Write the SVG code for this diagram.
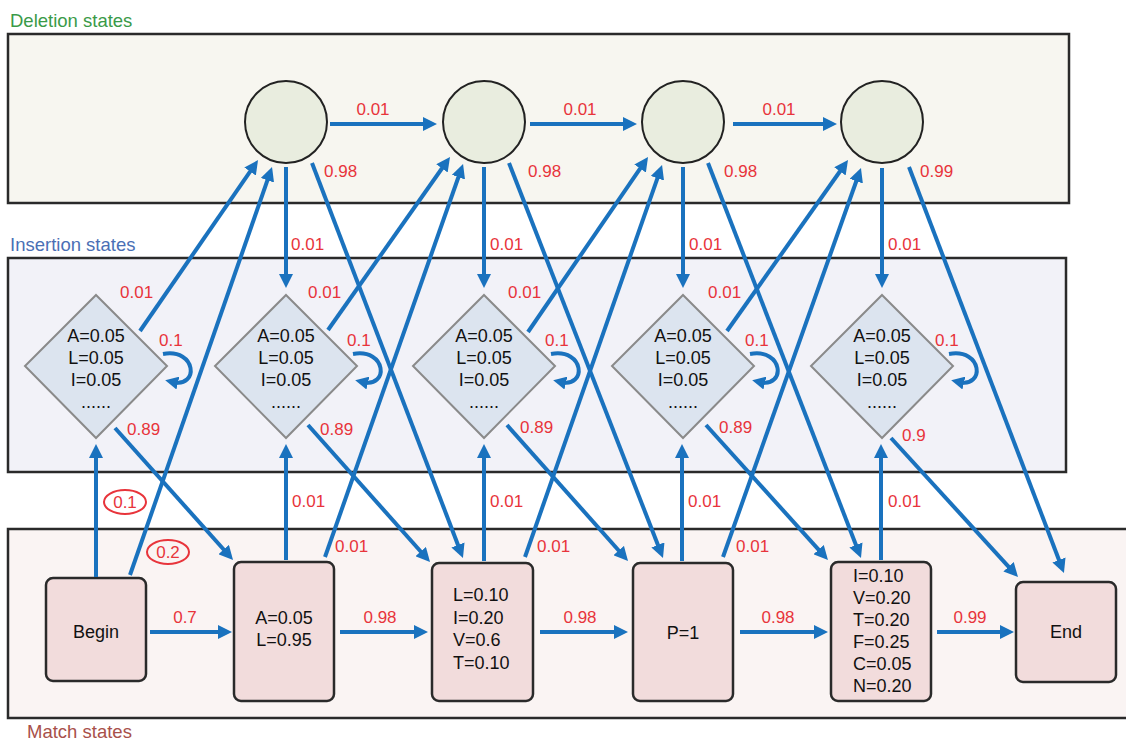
<svg xmlns="http://www.w3.org/2000/svg" width="1126" height="740" viewBox="0 0 1126 740">
<defs>
<marker id="ah" markerUnits="userSpaceOnUse" markerWidth="14" markerHeight="14" viewBox="0 0 14 14" refX="6" refY="7" orient="auto"><path d="M0,0 L14,7 L0,14 Z" fill="#1a72be"/></marker>
<marker id="ahs" markerUnits="userSpaceOnUse" markerWidth="13" markerHeight="13" viewBox="0 0 13 13" refX="5" refY="6.5" orient="auto"><path d="M0,0 L13,6.5 L0,13 Z" fill="#1a72be"/></marker>
</defs>
<style>
text{font-family:"Liberation Sans",Arial,sans-serif}
.panel{stroke:#2a2a2a;stroke-width:2.5}
.title{font-size:18.5px}
.lbl{font-size:17px;fill:#e8343b}
.t{font-size:18px;fill:#111}
.circ{fill:#e9eddf;stroke:#222;stroke-width:2}
.dia{fill:#dce4ef;stroke:#8a8a8a;stroke-width:2}
.box{fill:#f2dcdc;stroke:#2a2a2a;stroke-width:2.5}
.arr{stroke:#1a72be;stroke-width:4;fill:none;marker-end:url(#ah)}
.loop{stroke:#1a72be;stroke-width:4;fill:none;marker-end:url(#ahs)}
.oval{fill:none;stroke:#e8343b;stroke-width:2}
</style>
<rect width="1126" height="740" fill="#ffffff"/>
<g id="panels">
<rect class="panel" x="8" y="34" width="1061" height="169" fill="#f7f6f0"/>
<rect class="panel" x="8" y="258" width="1058" height="214" fill="#f2f2f8"/>
<rect class="panel" x="8" y="529" width="1125" height="189" fill="#faf4f3"/>
<text class="title" x="10" y="27" fill="#3a9a48">Deletion states</text>
<text class="title" x="10" y="251" fill="#4a6fb5">Insertion states</text>
<text class="title" x="27" y="738" fill="#a8504a">Match states</text>
</g>
<g id="D1"><circle class="circ" cx="286" cy="122" r="41"/></g>
<g id="D2"><circle class="circ" cx="484" cy="122" r="41"/></g>
<g id="D3"><circle class="circ" cx="683" cy="122" r="41"/></g>
<g id="D4"><circle class="circ" cx="882" cy="122" r="41"/></g>
<g id="I0"><polygon class="dia" points="96,295 167,366 96,438 25,366"/>
<text class="t" text-anchor="middle"><tspan x="96" y="342">A=0.05</tspan><tspan x="96" y="364">L=0.05</tspan><tspan x="96" y="386">I=0.05</tspan><tspan x="96" y="408">......</tspan></text></g>
<g id="I1"><polygon class="dia" points="286,295 357,366 286,438 215,366"/>
<text class="t" text-anchor="middle"><tspan x="286" y="342">A=0.05</tspan><tspan x="286" y="364">L=0.05</tspan><tspan x="286" y="386">I=0.05</tspan><tspan x="286" y="408">......</tspan></text></g>
<g id="I2"><polygon class="dia" points="484,295 555,366 484,438 413,366"/>
<text class="t" text-anchor="middle"><tspan x="484" y="342">A=0.05</tspan><tspan x="484" y="364">L=0.05</tspan><tspan x="484" y="386">I=0.05</tspan><tspan x="484" y="408">......</tspan></text></g>
<g id="I3"><polygon class="dia" points="683,295 754,366 683,438 612,366"/>
<text class="t" text-anchor="middle"><tspan x="683" y="342">A=0.05</tspan><tspan x="683" y="364">L=0.05</tspan><tspan x="683" y="386">I=0.05</tspan><tspan x="683" y="408">......</tspan></text></g>
<g id="I4"><polygon class="dia" points="882,295 953,366 882,438 811,366"/>
<text class="t" text-anchor="middle"><tspan x="882" y="342">A=0.05</tspan><tspan x="882" y="364">L=0.05</tspan><tspan x="882" y="386">I=0.05</tspan><tspan x="882" y="408">......</tspan></text></g>
<g id="Begin"><rect class="box" x="46" y="578" width="100" height="103" rx="7"/>
<text class="t" x="96" y="638" text-anchor="middle">Begin</text></g>
<g id="M1"><rect class="box" x="234" y="562" width="100" height="139" rx="7"/>
<text class="t" text-anchor="middle"><tspan x="284" y="624">A=0.05</tspan><tspan x="284" y="646">L=0.95</tspan></text></g>
<g id="M2"><rect class="box" x="432" y="563" width="101" height="138" rx="7"/>
<text class="t"><tspan x="453" y="601">L=0.10</tspan><tspan x="453" y="624">I=0.20</tspan><tspan x="453" y="646">V=0.6</tspan><tspan x="453" y="669">T=0.10</tspan></text></g>
<g id="M3"><rect class="box" x="633" y="563" width="100" height="138" rx="7"/>
<text class="t" x="683" y="639" text-anchor="middle">P=1</text></g>
<g id="M4"><rect class="box" x="831" y="562" width="100" height="139" rx="7"/>
<text class="t"><tspan x="853" y="582">I=0.10</tspan><tspan x="853" y="604">V=0.20</tspan><tspan x="853" y="626">T=0.20</tspan><tspan x="853" y="648">F=0.25</tspan><tspan x="853" y="670">C=0.05</tspan><tspan x="853" y="692">N=0.20</tspan></text></g>
<g id="End"><rect class="box" x="1016" y="582" width="100" height="100" rx="7"/>
<text class="t" x="1066" y="638" text-anchor="middle">End</text></g>
<g id="connectors">
<line class="arr" x1="330" y1="124" x2="429" y2="124"/>
<line class="arr" x1="530" y1="124" x2="629" y2="124"/>
<line class="arr" x1="733" y1="124" x2="829" y2="124"/>
<line class="arr" x1="286" y1="167" x2="286" y2="280"/>
<line class="arr" x1="484" y1="167" x2="484" y2="280"/>
<line class="arr" x1="683" y1="167" x2="683" y2="280"/>
<line class="arr" x1="882" y1="168" x2="882" y2="280"/>
<line class="arr" x1="96" y1="577" x2="96" y2="452"/>
<line class="arr" x1="286" y1="560" x2="286" y2="452"/>
<line class="arr" x1="484" y1="561" x2="484" y2="452"/>
<line class="arr" x1="682" y1="561" x2="682" y2="452"/>
<line class="arr" x1="881" y1="560" x2="881" y2="452"/>
<line class="arr" x1="150" y1="632" x2="224" y2="632"/>
<line class="arr" x1="340" y1="632" x2="420" y2="632"/>
<line class="arr" x1="540" y1="632" x2="620" y2="632"/>
<line class="arr" x1="740" y1="632" x2="820" y2="632"/>
<line class="arr" x1="937" y1="632" x2="1006" y2="632"/>
<line class="arr" x1="140" y1="331" x2="253.5" y2="166.6"/>
<line class="arr" x1="328" y1="330" x2="445.4" y2="163.5"/>
<line class="arr" x1="528" y1="332" x2="643.5" y2="163.6"/>
<line class="arr" x1="727" y1="331" x2="843.4" y2="166.5"/>
<line class="arr" x1="130" y1="575" x2="269.4" y2="174.6"/>
<line class="arr" x1="325" y1="557" x2="460.4" y2="171.5"/>
<line class="arr" x1="525" y1="557" x2="659.4" y2="172.6"/>
<line class="arr" x1="723" y1="557" x2="858.3" y2="175.5"/>
<line class="arr" x1="312" y1="163" x2="460.1" y2="550.5"/>
<line class="arr" x1="509" y1="163" x2="660.1" y2="550.5"/>
<line class="arr" x1="708" y1="163" x2="858.1" y2="550.5"/>
<line class="arr" x1="909" y1="167" x2="1061.1" y2="565.5"/>
<line class="arr" x1="115" y1="428" x2="227.7" y2="554"/>
<line class="arr" x1="308" y1="425" x2="424.7" y2="556"/>
<line class="arr" x1="507" y1="425" x2="622.7" y2="555"/>
<line class="arr" x1="706" y1="425" x2="822.6" y2="554.1"/>
<line class="arr" x1="891" y1="438" x2="1012.6" y2="571.1"/>
<path class="loop" d="M163,354 C197,348 199,388 173,382"/>
<path class="loop" d="M353,354 C387,348 389,388 363,382"/>
<path class="loop" d="M551,354 C585,348 587,388 561,382"/>
<path class="loop" d="M750,354 C784,348 786,388 760,382"/>
<path class="loop" d="M949,354 C983,348 985,388 959,382"/>
<ellipse class="oval" cx="125" cy="502" rx="21" ry="12"/>
<ellipse class="oval" cx="168" cy="552" rx="21" ry="12"/>
</g>
<g id="labels">
<text class="lbl" x="373" y="115" text-anchor="middle">0.01</text>
<text class="lbl" x="580" y="115" text-anchor="middle">0.01</text>
<text class="lbl" x="779" y="115" text-anchor="middle">0.01</text>
<text class="lbl" x="324" y="177">0.98</text>
<text class="lbl" x="528" y="177">0.98</text>
<text class="lbl" x="724" y="177">0.98</text>
<text class="lbl" x="920" y="177">0.99</text>
<text class="lbl" x="291" y="250">0.01</text>
<text class="lbl" x="490" y="250">0.01</text>
<text class="lbl" x="689" y="250">0.01</text>
<text class="lbl" x="888" y="250">0.01</text>
<text class="lbl" x="120" y="298">0.01</text>
<text class="lbl" x="308" y="298">0.01</text>
<text class="lbl" x="508" y="298">0.01</text>
<text class="lbl" x="708" y="298">0.01</text>
<text class="lbl" x="159" y="346">0.1</text>
<text class="lbl" x="347" y="346">0.1</text>
<text class="lbl" x="545" y="346">0.1</text>
<text class="lbl" x="745" y="346">0.1</text>
<text class="lbl" x="935" y="346">0.1</text>
<text class="lbl" x="127" y="435">0.89</text>
<text class="lbl" x="320" y="435">0.89</text>
<text class="lbl" x="520" y="433">0.89</text>
<text class="lbl" x="719" y="433">0.89</text>
<text class="lbl" x="902" y="441">0.9</text>
<text class="lbl" x="125" y="508" text-anchor="middle">0.1</text>
<text class="lbl" x="168" y="558" text-anchor="middle">0.2</text>
<text class="lbl" x="292" y="507">0.01</text>
<text class="lbl" x="490" y="507">0.01</text>
<text class="lbl" x="688" y="507">0.01</text>
<text class="lbl" x="888" y="507">0.01</text>
<text class="lbl" x="335" y="552">0.01</text>
<text class="lbl" x="537" y="552">0.01</text>
<text class="lbl" x="736" y="552">0.01</text>
<text class="lbl" x="185" y="623" text-anchor="middle">0.7</text>
<text class="lbl" x="380" y="623" text-anchor="middle">0.98</text>
<text class="lbl" x="580" y="623" text-anchor="middle">0.98</text>
<text class="lbl" x="778" y="623" text-anchor="middle">0.98</text>
<text class="lbl" x="970" y="623" text-anchor="middle">0.99</text>
</g>
</svg>
